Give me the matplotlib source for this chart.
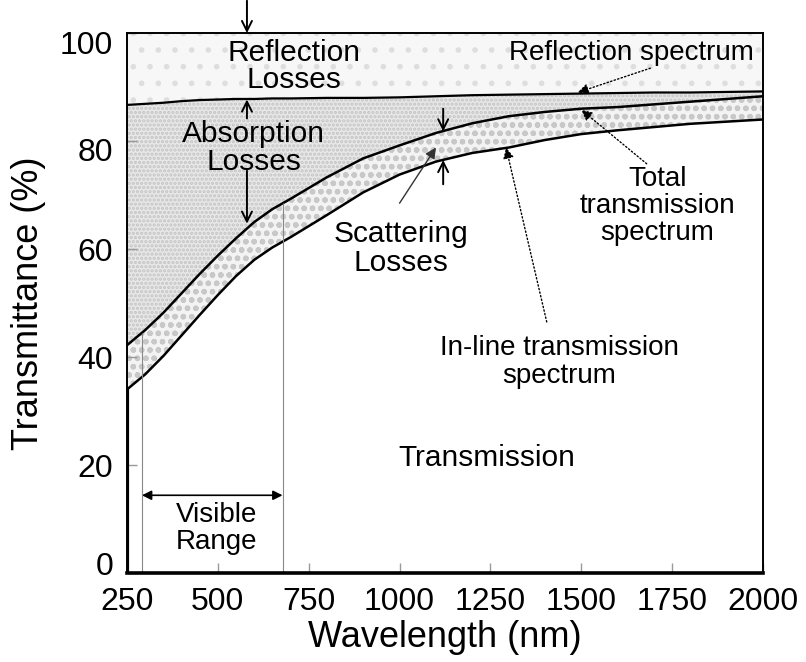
import numpy as np
import matplotlib
matplotlib.use("Agg")
import matplotlib.pyplot as plt
from matplotlib.transforms import ScaledTranslation

plt.rcParams['font.family'] = ['Liberation Sans', 'DejaVu Sans']
plt.rcParams['hatch.linewidth'] = 1.6

# wavelength grid (nm) and spectra (%)
wavelength = [250, 300, 350, 400, 450, 500, 550, 600, 650, 700, 800, 900, 1000,
              1100, 1200, 1300, 1400, 1500, 1600, 1700, 1800, 1900, 2000]
reflection = [86.7, 86.9, 87.1, 87.4, 87.6, 87.7, 87.8, 87.8, 87.9, 87.9, 88.0, 88.0, 88.1,
              88.3, 88.5, 88.6, 88.7, 88.8, 88.9, 89.0, 89.0, 89.1, 89.2]
total_trans = [42.2, 45.0, 48.2, 51.8, 55.4, 58.8, 62.0, 65.0, 67.4, 69.3, 73.3, 76.8, 79.2,
               81.5, 83.3, 84.6, 85.4, 86.0, 86.3, 86.8, 87.3, 87.8, 88.3]
inline_trans = [34.0, 36.8, 40.2, 44.0, 47.8, 51.5, 55.0, 58.0, 60.3, 62.2, 66.3, 70.5, 73.8,
                76.2, 77.8, 78.8, 80.2, 81.3, 82.0, 82.6, 83.2, 83.6, 84.0]
visible_range = [291, 678]

wl = np.array(wavelength)
refl = np.array(reflection)
tot = np.array(total_trans)
inl = np.array(inline_trans)

fig = plt.figure(figsize=(8.06, 6.62), dpi=100)
ax = fig.add_axes([0.1576, 0.1344, 0.789, 0.8156])

# shaded loss regions
ax.fill_between(wl, refl, 100, facecolor='#f7f7f7', edgecolor='#dedede', hatch='.', lw=0)
ax.fill_between(wl, tot, refl, facecolor='#e8e8e8', edgecolor='#c4c4c4', hatch='....', lw=0)
ax.fill_between(wl, inl, tot, facecolor='#f3f3f3', edgecolor='#c8c8c8', hatch='oo', lw=0)

# spectra
ax.plot(wl, refl, color='black', lw=1.6)
ax.plot(wl, tot, color='black', lw=1.8)
ax.plot(wl, inl, color='black', lw=1.8)
ax.vlines(wl[0], 0, inl[0], color='black', lw=3)

# visible range markers
tot_vis = np.interp(visible_range, wl, tot)
for xv, yt in zip(visible_range, tot_vis):
    ax.vlines(xv, 0, yt, color='#888888', lw=0.8)
ax.annotate('', xy=(visible_range[0], 14.4), xytext=(visible_range[1], 14.4),
            arrowprops=dict(arrowstyle='<|-|>', color='black', lw=1.2, shrinkA=0, shrinkB=0,
                            mutation_scale=14))

ax.set_xlim(250, 2000)
ax.set_ylim(0, 100)
ax.set_xticks([250, 500, 750, 1000, 1250, 1500, 1750, 2000])
ax.set_yticks([0, 20, 40, 60, 80, 100])
ax.tick_params(direction='in', length=7, width=1, color='#999999', labelsize=23, pad=10)
for s in ['top', 'right', 'left']:
    ax.spines[s].set_linewidth(1.4)
ax.spines['bottom'].set_linewidth(2.6)

# nudge a few y tick labels as in the original
shifts = {0: 10, 80: -8, 100: -9}
for lab, val in zip(ax.get_yticklabels(), ax.get_yticks()):
    if int(val) in shifts:
        lab.set_transform(lab.get_transform() +
                          ScaledTranslation(0, shifts[int(val)] / 100, fig.dpi_scale_trans))

ax.set_xlabel('Wavelength (nm)', fontsize=26, labelpad=2)
ax.set_ylabel('Transmittance (%)', fontsize=26, labelpad=10)

fb = 21.5
fs = 20
ax.text(709, 93.8, 'Reflection\nLosses', ha='center', va='center', fontsize=fb,
        linespacing=0.95)
ax.text(599, 78.75, 'Absorption\nLosses', ha='center', va='center', fontsize=fb,
        linespacing=1.02)
ax.text(1005, 60.1, 'Scattering\nLosses', ha='center', va='center', fontsize=fb,
        linespacing=1.05)
ax.text(1637, 96.3, 'Reflection spectrum', ha='center', va='center', fontsize=fs)
ax.text(1709, 68.0, 'Total\ntransmission\nspectrum', ha='center', va='center', fontsize=fs,
        linespacing=1.05)
ax.text(1440, 39.1, 'In-line transmission\nspectrum', ha='center', va='center', fontsize=fs,
        linespacing=1.08)
ax.text(1239, 21.3, 'Transmission', ha='center', va='center', fontsize=fb)
ax.text(497, 8.25, 'Visible\nRange', ha='center', va='center', fontsize=fs,
        linespacing=1.08)

open_arrow = dict(arrowstyle='->', color='black', lw=1.4, shrinkA=0, shrinkB=0,
                  mutation_scale=18)
ax.annotate('', xy=(580, 100), xytext=(580, 106), arrowprops=open_arrow,
            annotation_clip=False)
ax.annotate('', xy=(580, 87.7), xytext=(580, 84.2), arrowprops=open_arrow)
ax.annotate('', xy=(580, 64.7), xytext=(580, 74.5), arrowprops=open_arrow)
ax.annotate('', xy=(1120, 81.8), xytext=(1120, 86.0), arrowprops=open_arrow)
ax.annotate('', xy=(1120, 76.5), xytext=(1120, 72.0), arrowprops=open_arrow)

# pointer arrows with filled heads
ax.annotate('', xy=(1100, 78.8), xytext=(1000, 68.5),
            arrowprops=dict(arrowstyle='-|>', color='#333333', lw=1.0, shrinkA=0, shrinkB=0,
                            mutation_scale=16))
dotted = dict(arrowstyle='-|>', color='black', lw=1.0, ls=':', shrinkA=0, shrinkB=0,
              mutation_scale=16)
ax.annotate('', xy=(1490, 89.0), xytext=(1690, 93.5), arrowprops=dotted)
ax.annotate('', xy=(1500, 85.8), xytext=(1680, 75.8), arrowprops=dotted)
ax.annotate('', xy=(1293, 78.8), xytext=(1405, 46.5), arrowprops=dotted)

fig.savefig('out.png', dpi=100)
